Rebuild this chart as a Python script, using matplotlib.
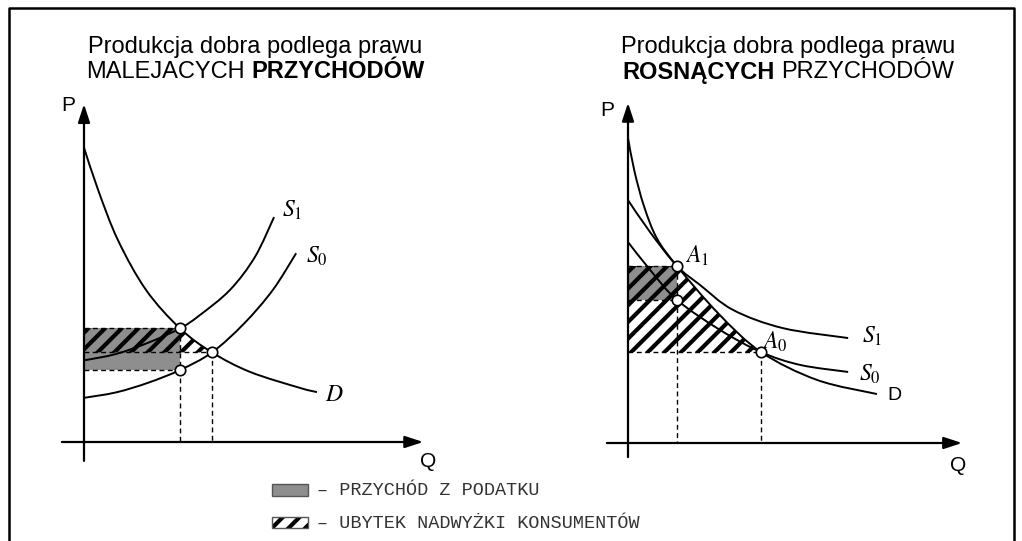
import numpy as np
import matplotlib
matplotlib.use("Agg")
import matplotlib.pyplot as plt
from matplotlib.path import Path
from matplotlib.patches import PathPatch, Rectangle

# ---- data (Q, P in panel units) ----
# left panel: diminishing returns
left_d_q = [0, 0.44, 1.06, 1.94, 3.0, 4.0, 5.19, 6.75, 7.28]
left_d_p = [9.2, 7.88, 6.31, 4.75, 3.55, 2.8, 2.19, 1.69, 1.56]
left_s1_q = [0, 1.0, 2.0, 3.0, 3.6, 4.56, 5.34, 5.94]
left_s1_p = [2.55, 2.75, 3.1, 3.55, 3.95, 4.75, 5.78, 7.03]
left_s0_q = [0, 1.0, 2.0, 3.0, 4.0, 5.0, 5.9, 6.63]
left_s0_p = [1.38, 1.55, 1.85, 2.25, 2.8, 3.7, 4.75, 5.9]

# right panel: increasing returns
right_d_q = [0, 0.2, 0.5, 0.9, 1.53, 2.84, 4.16, 5.91, 7.78]
right_d_p = [9.53, 8.5, 7.4, 6.4, 5.53, 4.03, 2.84, 1.97, 1.53]
right_s1_q = [0, 0.69, 1.53, 2.25, 3.28, 4.84, 6.88]
right_s1_p = [7.59, 6.59, 5.53, 4.94, 4.16, 3.59, 3.28]
right_s0_q = [0, 0.69, 1.53, 2.88, 4.16, 5.38, 6.88]
right_s0_p = [6.28, 5.41, 4.47, 3.53, 2.84, 2.44, 2.22]

title_top = "Produkcja dobra podlega prawu"
left_title = [("MALEJACYCH", "normal"), ("PRZYCHODÓW", "bold")]
right_title = [("ROSNĄCYCH", "bold"), ("PRZYCHODÓW", "normal")]
legend_labels = ["– PRZYCHÓD Z PODATKU", "– UBYTEK NADWYŻKI KONSUMENTÓW"]

GRAY = "#8e8e8e"
SANS = "Liberation Sans"

plt.rcParams["mathtext.fontset"] = "stix"
plt.rcParams["hatch.linewidth"] = 3.0

W, H = 1022, 541
fig = plt.figure(figsize=(W / 100, H / 100), dpi=100)
bg = fig.add_axes([0, 0, 1, 1])
bg.set_xlim(0, W)
bg.set_ylim(H, 0)
bg.axis("off")

PX = 32  # pixels per panel unit


def panel(x0, y0, left, right, top, bottom):
    ax = fig.add_axes([left / W, 1 - bottom / H, (right - left) / W, (bottom - top) / H])
    ax.set_xlim((left - x0) / PX, (right - x0) / PX)
    ax.set_ylim((y0 - bottom) / PX, (y0 - top) / PX)
    ax.axis("off")
    return ax


def bezier(q, p):
    # smooth curve through the read points (Catmull-Rom as cubic bezier)
    pts = np.column_stack([q, p])
    n = len(pts)
    verts = [pts[0]]
    codes = [Path.MOVETO]
    for i in range(n - 1):
        prev = pts[max(i - 1, 0)]
        nxt = pts[min(i + 2, n - 1)]
        verts += [pts[i] + (pts[i + 1] - prev) / 6,
                  pts[i + 1] - (nxt - pts[i]) / 6,
                  pts[i + 1]]
        codes += [Path.CURVE4] * 3
    return verts, codes


def curve(ax, q, p):
    v, c = bezier(q, p)
    ax.add_patch(PathPatch(Path(v, c), fill=False, lw=1.4, ec="black", zorder=4))


def draw_panel(ax, dq, dp, s1q, s1p, s0q, s0p, i1, i0, i_low, xr, yr):
    q1, p1 = dq[i1], dp[i1]
    q0, p0 = dq[i0], dp[i0]
    p_low = s0p[i_low]

    # tax revenue
    ax.add_patch(Rectangle((0, p_low), q1, p1 - p_low, fc=GRAY, ec="none", zorder=1))
    # lost consumer surplus
    v, c = bezier(dq, dp)
    seg_v = [(0, p1), v[3 * i1]] + v[3 * i1 + 1:3 * i0 + 1] + [(0, p0), (0, p1)]
    seg_c = [Path.MOVETO, Path.LINETO] + c[3 * i1 + 1:3 * i0 + 1] + [Path.LINETO, Path.CLOSEPOLY]
    ax.add_patch(PathPatch(Path(seg_v, seg_c), fc="none", ec="black", lw=0,
                           hatch="//", zorder=2))

    dash = dict(color="black", lw=1.0, ls=(0, (3.5, 2.5)), zorder=3)
    ax.plot([0, q1], [p1, p1], **dash)
    ax.plot([0, q1], [p_low, p_low], **dash)
    ax.plot([0, q0], [p0, p0], **dash)
    ax.plot([q1, q1], [p1, 0], **dash)
    ax.plot([q0, q0], [p0, 0], **dash)

    curve(ax, dq, dp)
    curve(ax, s1q, s1p)
    curve(ax, s0q, s0p)

    arrow = dict(arrowstyle="-|>,head_length=0.55,head_width=0.18", lw=1.6,
                 color="black", mutation_scale=20, shrinkA=0, shrinkB=0)
    ax.annotate("", xy=(xr[1], 0), xytext=(xr[0], 0), arrowprops=arrow, zorder=5)
    ax.annotate("", xy=(0, yr[1]), xytext=(0, yr[0]), arrowprops=arrow, zorder=5)

    ax.plot([q1, q0, q1], [p1, p0, p_low], ls="none", marker="o", ms=7.5,
            mfc="white", mec="black", mew=1.2, zorder=6)


# left panel
axL = panel(84, 442, 30, 470, 85, 480)
draw_panel(axL, left_d_q, left_d_p, left_s1_q, left_s1_p, left_s0_q, left_s0_p,
           4, 5, 3, (-0.69, 10.6), (-0.59, 10.56))
axL.text(-0.5, 10.53, "P", fontsize=15, family=SANS, ha="center", va="center")
axL.text(10.75, -0.62, "Q", fontsize=15, family=SANS, ha="center", va="center")
axL.text(6.2, 7.25, "$S_1$", fontsize=17, ha="left", va="center")
axL.text(6.95, 5.81, "$S_0$", fontsize=17, ha="left", va="center")
axL.text(7.53, 1.5, "$D$", fontsize=17, ha="left", va="center")

# right panel
axR = panel(628, 443, 570, 1010, 85, 480)
draw_panel(axR, right_d_q, right_d_p, right_s1_q, right_s1_p, right_s0_q, right_s0_p,
           4, 6, 2, (-0.66, 10.44), (-0.44, 10.63))
axR.text(-0.66, 10.4, "P", fontsize=15, family=SANS, ha="center", va="center")
axR.text(10.31, -0.69, "Q", fontsize=15, family=SANS, ha="center", va="center")
axR.text(1.78, 5.84, "$A_1$", fontsize=17, ha="left", va="center")
axR.text(4.2, 3.16, "$A_0$", fontsize=17, ha="left", va="center")
axR.text(7.31, 3.34, "$S_1$", fontsize=17, ha="left", va="center")
axR.text(7.22, 2.16, "$S_0$", fontsize=17, ha="left", va="center")
axR.text(8.09, 1.5, "D", fontsize=14, family=SANS, ha="left", va="center")

# titles
renderer = fig.canvas.get_renderer()
TSIZE = 17


def mixed_line(xc, y, parts):
    texts = [bg.text(0, y, s, fontsize=TSIZE, fontweight=w, family=SANS, va="baseline")
             for s, w in parts]
    widths = [t.get_window_extent(renderer).width for t in texts]
    gap = 0.278 * TSIZE * 100 / 72
    x = xc - (sum(widths) + gap * (len(parts) - 1)) / 2
    for t, w in zip(texts, widths):
        t.set_x(x)
        x += w + gap


for xc, parts in [(255, left_title), (788, right_title)]:
    bg.text(xc, 53, title_top, fontsize=TSIZE, family=SANS, ha="center", va="baseline")
    mixed_line(xc, 78.5, parts)

# legend
bg.add_patch(Rectangle((272, 484), 36, 12, fc=GRAY, ec="#555555", lw=1))
bg.add_patch(Rectangle((272, 517), 36, 11, fc="white", ec="black", lw=0, hatch="//"))
bg.add_patch(Rectangle((272, 517), 36, 11, fill=False, ec="#555555", lw=1))
for y, lab in zip([490.5, 523], legend_labels):
    bg.text(317, y, lab, fontsize=13.3, family="Liberation Mono", color="#333333",
            ha="left", va="center")

# frame
bg.plot([9, 9, 1014, 1014], [541, 8, 8, 541], color="black", lw=1.8, clip_on=False)

fig.savefig("out.png", dpi=100)
